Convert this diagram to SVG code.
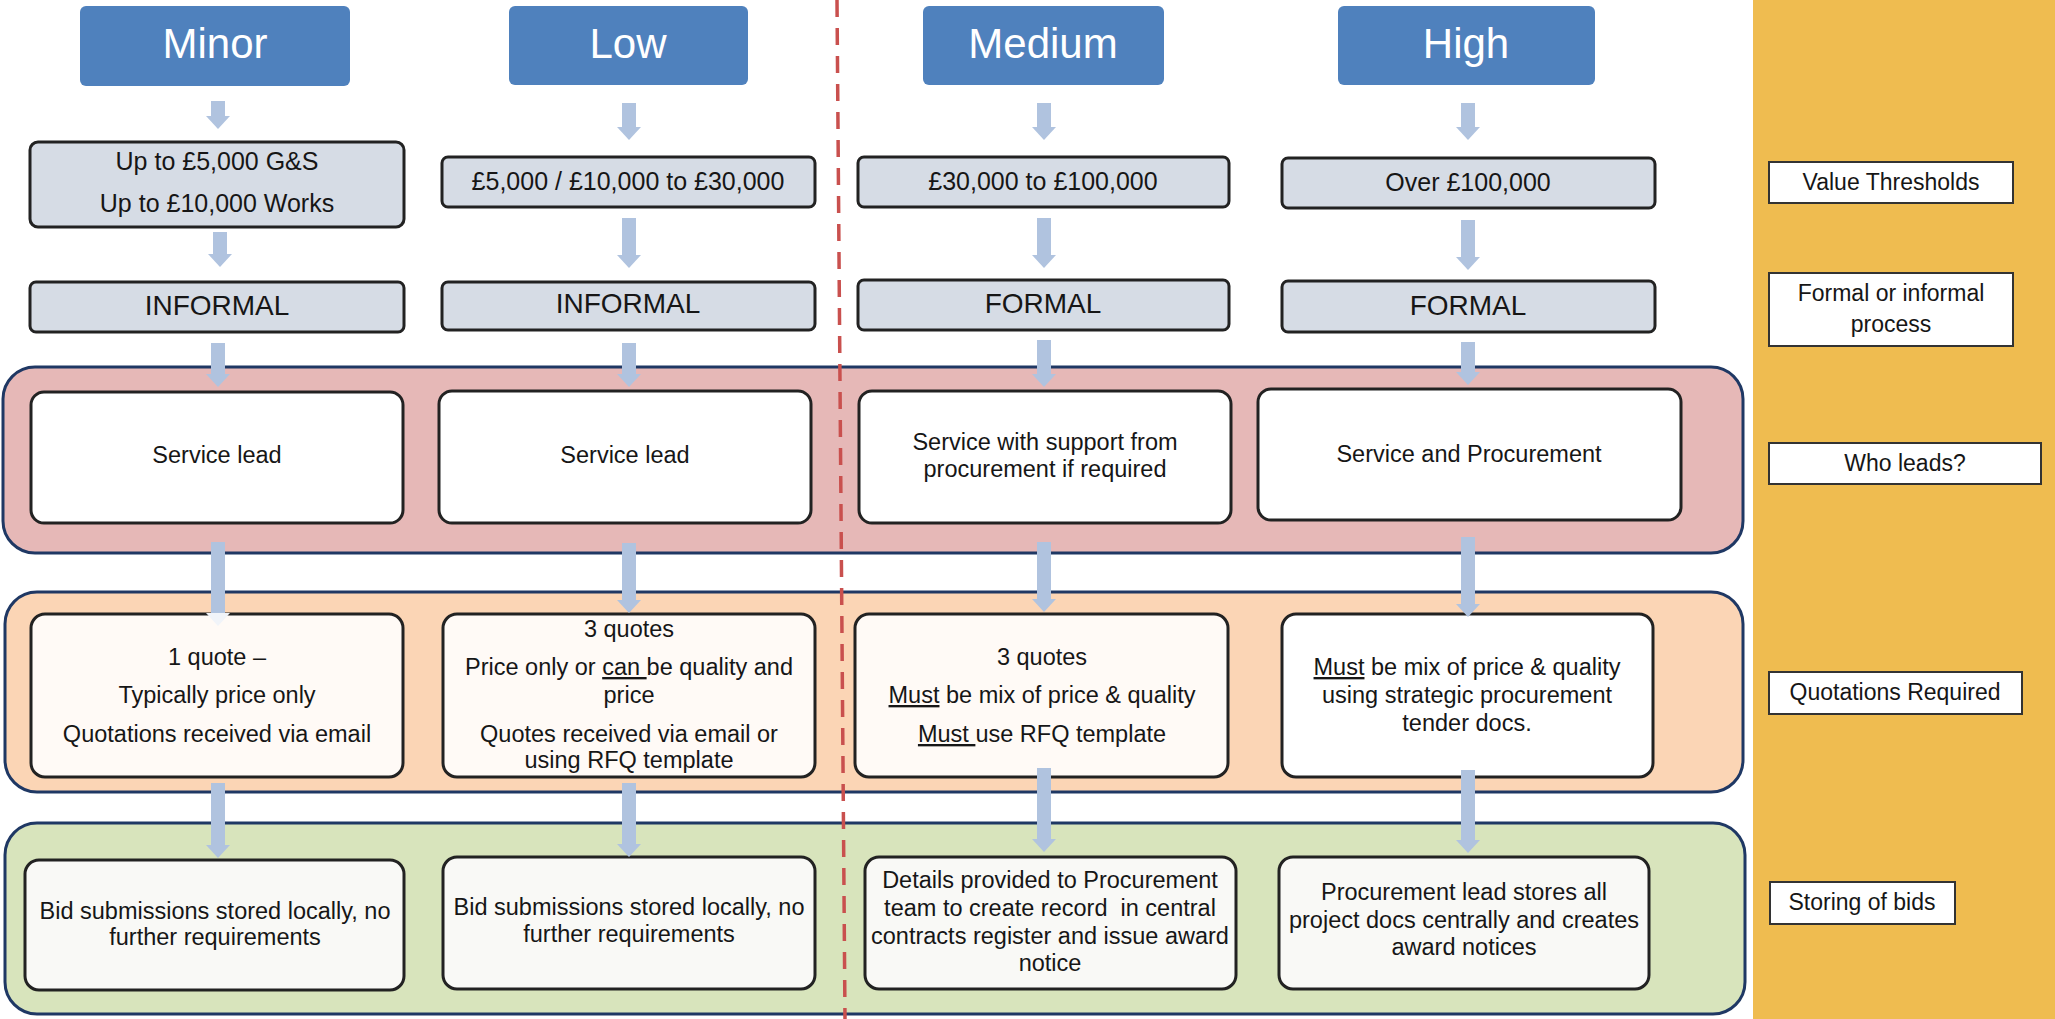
<svg xmlns="http://www.w3.org/2000/svg" width="2055" height="1019" viewBox="0 0 2055 1019">
<style>
text{font-family:"Liberation Sans",Arial,sans-serif;fill:#161616;text-anchor:middle}
.hdr rect{fill:#4F81BD;stroke:none}
.hdr text{fill:#fff;font-size:42px}
.val rect{fill:#D6DCE5;stroke:#222;stroke-width:3}
.val text{font-size:25px}
.proc text{font-size:28px}
.who rect{fill:#fff;stroke:#222;stroke-width:3}
.quo rect{fill:#FFFAF6;stroke:#222;stroke-width:3}
.sto rect{fill:#F9F9F6;stroke:#222;stroke-width:3}
.body{font-size:23.5px}
.lbl rect{fill:#fff;stroke:#333;stroke-width:2}
.lbl text{font-size:23px}
.cont{stroke:#1F3864;stroke-width:3}
.conn line{stroke:#B0C3DF;stroke-width:14}
.u{text-decoration:underline}
</style>
<defs>
<marker id="ah" markerUnits="userSpaceOnUse" markerWidth="13" markerHeight="24" viewBox="0 0 13 24" refX="0" refY="12" orient="auto">
<path d="M0,0 L13,12 L0,24 Z" fill="#B0C3DF"/>
</marker>
<marker id="ahf" markerUnits="userSpaceOnUse" markerWidth="13" markerHeight="24" viewBox="0 0 13 24" refX="0" refY="12" orient="auto">
<path d="M0,0 L13,12 L0,24 Z" fill="#F1F4F9"/>
</marker>
</defs>
<rect width="2055" height="1019" fill="#fff"/>
<rect id="side-panel" x="1753" y="0" width="302" height="1019" fill="#EFBC50"/>

<g id="containers">
<rect id="who-band" class="cont" x="3" y="367" width="1740" height="186" rx="32" fill="#E6B8B7"/>
<rect id="quote-band" class="cont" x="5" y="592" width="1738" height="200" rx="32" fill="#FBD5B5"/>
<rect id="store-band" class="cont" x="5" y="823" width="1740" height="191" rx="32" fill="#D8E4BC"/>
</g>

<g id="headers" class="hdr">
<g id="h-minor"><rect x="80" y="6" width="270" height="80" rx="6"/><text x="215" y="58">Minor</text></g>
<g id="h-low"><rect x="509" y="6" width="239" height="79" rx="6"/><text x="628" y="58">Low</text></g>
<g id="h-medium"><rect x="923" y="6" width="241" height="79" rx="6"/><text x="1043" y="58">Medium</text></g>
<g id="h-high"><rect x="1338" y="6" width="257" height="79" rx="6"/><text x="1466" y="58">High</text></g>
</g>

<g id="values" class="val">
<g id="v-minor"><rect x="30" y="142" width="374" height="85" rx="8"/><text x="217" y="170">Up to £5,000 G&amp;S</text><text x="217" y="212">Up to £10,000 Works</text></g>
<g id="v-low"><rect x="442" y="157" width="373" height="50" rx="6"/><text x="628" y="190">£5,000 / £10,000 to £30,000</text></g>
<g id="v-medium"><rect x="858" y="157" width="371" height="50" rx="6"/><text x="1043" y="190">£30,000 to £100,000</text></g>
<g id="v-high"><rect x="1282" y="158" width="373" height="50" rx="6"/><text x="1468" y="191">Over £100,000</text></g>
</g>

<g id="process" class="val proc">
<g id="p-minor"><rect x="30" y="282" width="374" height="50" rx="6"/><text x="217" y="315">INFORMAL</text></g>
<g id="p-low"><rect x="442" y="282" width="373" height="48" rx="6"/><text x="628" y="313">INFORMAL</text></g>
<g id="p-medium"><rect x="858" y="280" width="371" height="50" rx="6"/><text x="1043" y="313">FORMAL</text></g>
<g id="p-high"><rect x="1282" y="281" width="373" height="51" rx="6"/><text x="1468" y="315">FORMAL</text></g>
</g>

<g id="who" class="who">
<g id="w-minor"><rect x="31" y="392" width="372" height="131" rx="13"/><text class="body" x="217" y="463">Service lead</text></g>
<g id="w-low"><rect x="439" y="391" width="372" height="132" rx="13"/><text class="body" x="625" y="463">Service lead</text></g>
<g id="w-medium"><rect x="859" y="391" width="372" height="132" rx="13"/><text class="body" x="1045" y="450">Service with support from</text><text class="body" x="1045" y="477">procurement if required</text></g>
<g id="w-high"><rect x="1258" y="389" width="423" height="131" rx="13"/><text class="body" x="1469" y="462">Service and Procurement</text></g>
</g>

<g id="quotes" class="quo">
<g id="q-minor"><rect x="31" y="614" width="372" height="163" rx="14"/>
<text class="body" x="217" y="665">1 quote –</text>
<text class="body" x="217" y="703">Typically price only</text>
<text class="body" x="217" y="742">Quotations received via email</text></g>
<g id="q-low"><rect x="443" y="614" width="372" height="163" rx="14"/>
<text class="body" x="629" y="637">3 quotes</text>
<text class="body" x="629" y="675">Price only or <tspan class="u">can </tspan>be quality and</text>
<text class="body" x="629" y="703">price</text>
<text class="body" x="629" y="742">Quotes received via email or</text>
<text class="body" x="629" y="768">using RFQ template</text></g>
<g id="q-medium"><rect x="855" y="614" width="373" height="163" rx="14"/>
<text class="body" x="1042" y="665">3 quotes</text>
<text class="body" x="1042" y="703"><tspan class="u">Must</tspan> be mix of price &amp; quality</text>
<text class="body" x="1042" y="742"><tspan class="u">Must </tspan>use RFQ template</text></g>
<g id="q-high"><rect x="1282" y="614" width="371" height="163" rx="14" style="fill:#fff"/>
<text class="body" x="1467" y="675"><tspan class="u">Must</tspan> be mix of price &amp; quality</text>
<text class="body" x="1467" y="703">using strategic procurement</text>
<text class="body" x="1467" y="731">tender docs.</text></g>
</g>

<g id="storing" class="sto">
<g id="s-minor"><rect x="25" y="860" width="379" height="130" rx="14"/>
<text class="body" x="215" y="919">Bid submissions stored locally, no</text>
<text class="body" x="215" y="945">further requirements</text></g>
<g id="s-low"><rect x="443" y="857" width="372" height="132" rx="14"/>
<text class="body" x="629" y="915">Bid submissions stored locally, no</text>
<text class="body" x="629" y="942">further requirements</text></g>
<g id="s-medium"><rect x="865" y="857" width="371" height="132" rx="14"/>
<text class="body" x="1050" y="888">Details provided to Procurement</text>
<text class="body" x="1050" y="916" xml:space="preserve">team to create record  in central</text>
<text class="body" x="1050" y="944">contracts register and issue award</text>
<text class="body" x="1050" y="971">notice</text></g>
<g id="s-high"><rect x="1279" y="857" width="370" height="132" rx="14"/>
<text class="body" x="1464" y="900">Procurement lead stores all</text>
<text class="body" x="1464" y="928">project docs centrally and creates</text>
<text class="body" x="1464" y="955">award notices</text></g>
</g>

<g id="labels" class="lbl">
<g id="l-value"><rect x="1769" y="162" width="244" height="41"/><text x="1891" y="190">Value Thresholds</text></g>
<g id="l-formal"><rect x="1769" y="273" width="244" height="73"/><text x="1891" y="301">Formal or informal</text><text x="1891" y="332">process</text></g>
<g id="l-who"><rect x="1769" y="443" width="272" height="41"/><text x="1905" y="471">Who leads?</text></g>
<g id="l-quotes"><rect x="1769" y="672" width="253" height="42"/><text x="1895" y="700">Quotations Required</text></g>
<g id="l-store"><rect x="1770" y="882" width="185" height="42"/><text x="1862" y="910">Storing of bids</text></g>
</g>

<g id="connectors" class="conn">
<line x1="218" y1="101" x2="218" y2="116" marker-end="url(#ah)"/>
<line x1="220" y1="232" x2="220" y2="254" marker-end="url(#ah)"/>
<line x1="218" y1="343" x2="218" y2="374" marker-end="url(#ah)"/>
<line x1="218" y1="542" x2="218" y2="613" marker-end="url(#ahf)"/>
<line x1="218" y1="783" x2="218" y2="845" marker-end="url(#ah)"/>

<line x1="629" y1="103" x2="629" y2="127" marker-end="url(#ah)"/>
<line x1="629" y1="218" x2="629" y2="255" marker-end="url(#ah)"/>
<line x1="629" y1="343" x2="629" y2="374" marker-end="url(#ah)"/>
<line x1="629" y1="543" x2="629" y2="600" marker-end="url(#ah)"/>
<line x1="629" y1="783" x2="629" y2="844" marker-end="url(#ah)"/>

<line x1="1044" y1="103" x2="1044" y2="127" marker-end="url(#ah)"/>
<line x1="1044" y1="218" x2="1044" y2="255" marker-end="url(#ah)"/>
<line x1="1044" y1="340" x2="1044" y2="374" marker-end="url(#ah)"/>
<line x1="1044" y1="542" x2="1044" y2="599" marker-end="url(#ah)"/>
<line x1="1044" y1="768" x2="1044" y2="839" marker-end="url(#ah)"/>

<line x1="1468" y1="103" x2="1468" y2="127" marker-end="url(#ah)"/>
<line x1="1468" y1="220" x2="1468" y2="257" marker-end="url(#ah)"/>
<line x1="1468" y1="342" x2="1468" y2="372" marker-end="url(#ah)"/>
<line x1="1468" y1="537" x2="1468" y2="604" marker-end="url(#ah)"/>
<line x1="1468" y1="770" x2="1468" y2="840" marker-end="url(#ah)"/>
</g>

<line id="divider" x1="837" y1="0" x2="845" y2="1019" stroke="#C9504E" stroke-width="3.5" stroke-dasharray="17 11"/>
</svg>
